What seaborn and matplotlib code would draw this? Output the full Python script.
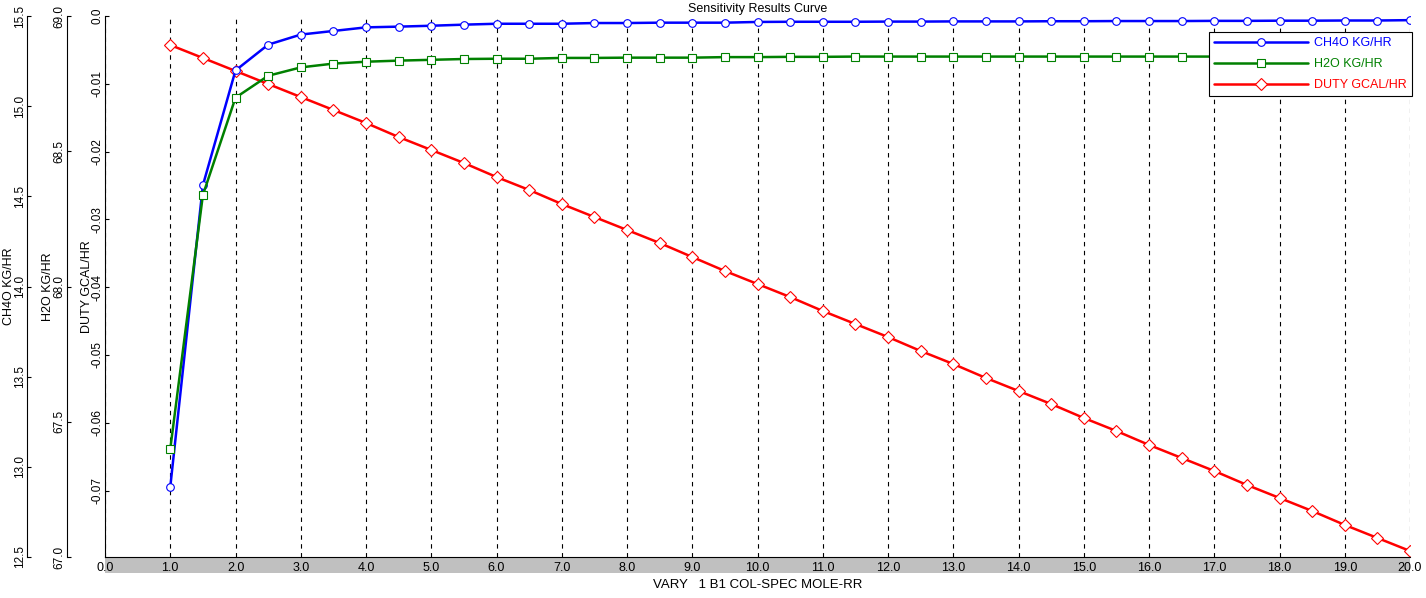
import matplotlib
matplotlib.use("Agg")
import matplotlib.pyplot as plt
import seaborn as sns
from matplotlib.patches import Rectangle
from matplotlib.ticker import FuncFormatter


# DATA

vary_rr = [1.0, 1.5, 2.0, 2.5, 3.0, 3.5, 4.0, 4.5, 5.0, 5.5,
           6.0, 6.5, 7.0, 7.5, 8.0, 8.5, 9.0, 9.5, 10.0, 10.5,
           11.0, 11.5, 12.0, 12.5, 13.0, 13.5, 14.0, 14.5, 15.0, 15.5,
           16.0, 16.5, 17.0, 17.5, 18.0, 18.5, 19.0, 19.5, 20.0]

ch4o_kg_hr = [12.887, 14.561, 15.198, 15.341, 15.397, 15.417, 15.437, 15.441, 15.446, 15.452,
              15.457, 15.457, 15.457, 15.461, 15.461, 15.463, 15.463, 15.463, 15.467, 15.468,
              15.468, 15.468, 15.469, 15.469, 15.470, 15.470, 15.470, 15.471, 15.471, 15.472,
              15.472, 15.472, 15.473, 15.473, 15.474, 15.474, 15.475, 15.475, 15.477]

h2o_kg_hr = [67.399, 68.338, 68.698, 68.779, 68.810, 68.824, 68.831, 68.835, 68.838, 68.841,
             68.842, 68.842, 68.845, 68.845, 68.846, 68.846, 68.846, 68.848, 68.848, 68.849,
             68.849, 68.850, 68.850, 68.850, 68.850, 68.850, 68.850, 68.850, 68.850, 68.850,
             68.850, 68.850, 68.850, 68.851, 68.851, 68.851, 68.851, 68.851, 68.851]

duty_gcal_hr = [-0.00428, -0.00619, -0.00811, -0.01003, -0.01195, -0.01386, -0.01578, -0.01785, -0.01976, -0.02168,
                -0.02375, -0.02566, -0.02773, -0.02965, -0.03156, -0.03348, -0.03555, -0.03761, -0.03953, -0.04145,
                -0.04351, -0.04543, -0.04735, -0.04941, -0.05133, -0.05339, -0.05531, -0.05723, -0.05929, -0.06121,
                -0.06327, -0.06519, -0.06711, -0.06917, -0.07109, -0.07301, -0.07507, -0.07699, -0.07891]

x_ticks = [0.0, 1.0, 2.0, 3.0, 4.0, 5.0, 6.0, 7.0, 8.0, 9.0, 10.0,
           11.0, 12.0, 13.0, 14.0, 15.0, 16.0, 17.0, 18.0, 19.0, 20.0]
ch4o_ticks = [12.5, 13.0, 13.5, 14.0, 14.5, 15.0, 15.5]
h2o_ticks = [67.0, 67.5, 68.0, 68.5, 69.0]
duty_ticks = [-0.07, -0.06, -0.05, -0.04, -0.03, -0.02, -0.01, 0.0]


# STYLE

sns.set_theme(style="white", rc={
    "axes.edgecolor": "black", "axes.labelcolor": "black", "text.color": "black",
    "xtick.color": "black", "ytick.color": "black", "axes.linewidth": 0.8,
})
plt.rcParams["font.family"] = ["Liberation Sans", "DejaVu Sans"]

W, H = 1426, 598
fig = plt.figure(figsize=(W / 100, H / 100), dpi=100)
ax = fig.add_axes([105 / W, 41 / H, 1305 / W, 541 / H])
ax_ch = ax.twinx()
ax_h2 = ax.twinx()

# grey band behind the x tick labels
fig.patches.append(Rectangle((105 / W, 25 / H), 1305 / W, 16 / H, transform=fig.transFigure,
                             facecolor="#c0c0c0", edgecolor="none", zorder=-1))


# LINES

line_kw = dict(linewidth=1.8, markerfacecolor="white", markeredgewidth=0.8, legend=False)
sns.lineplot(x=vary_rr, y=duty_gcal_hr, ax=ax, color="#ff0000", marker="D", markersize=6,
             markeredgecolor="#ff0000", **line_kw)
sns.lineplot(x=vary_rr, y=ch4o_kg_hr, ax=ax_ch, color="#0000ff", marker="o", markersize=5.5,
             markeredgecolor="#0000ff", **line_kw)
sns.lineplot(x=vary_rr, y=h2o_kg_hr, ax=ax_h2, color="#008000", marker="s", markersize=5.5,
             markeredgecolor="#008000", **line_kw)


# AXES

ax.set_xlim(0, 20)
ax.set_xticks(x_ticks)
ax.xaxis.set_major_formatter(FuncFormatter(lambda v, p: f"{v:.1f}"))
ax.tick_params(axis="x", length=0, pad=3.5, labelsize=9)
ax.xaxis.grid(True, color="black", linestyle=(0, (4, 4)), linewidth=0.8)
ax.set_xlabel("VARY   1 B1 COL-SPEC MOLE-RR", fontsize=9.5, labelpad=4)
ax.set_title("Sensitivity Results Curve", fontsize=9, pad=3)

ax.set_ylim(-0.0798, 0)
ax.set_yticks(duty_ticks)
ax.yaxis.set_major_formatter(FuncFormatter(lambda v, p: "0.0" if abs(v) < 1e-9 else f"{v:.2f}"))
ax.set_ylabel("DUTY GCAL/HR", fontsize=9)

ax_ch.set_ylim(12.5, 15.5)
ax_ch.set_yticks(ch4o_ticks)
ax_ch.yaxis.set_major_formatter(FuncFormatter(lambda v, p: f"{v:.1f}"))
ax_ch.set_ylabel("CH4O KG/HR", fontsize=9)

ax_h2.set_ylim(67.0, 69.0)
ax_h2.set_yticks(h2o_ticks)
ax_h2.yaxis.set_major_formatter(FuncFormatter(lambda v, p: f"{v:.1f}"))
ax_h2.set_ylabel("H2O KG/HR", fontsize=9)

for a, off in ((ax_ch, -78), (ax_h2, -38)):
    a.spines["left"].set_visible(True)
    a.spines["left"].set_position(("axes", off / 1305))
    a.yaxis.set_ticks_position("left")
    a.yaxis.set_label_position("left")
    a.spines["bottom"].set_visible(False)

# label anchors (right edge of the rotated text), in pixels from the figure's left edge
for a, px in ((ax_ch, 15), (ax_h2, 54), (ax, 93)):
    a.yaxis.set_label_coords((px - 105) / 1305, 0.5)

for a in (ax, ax_ch, ax_h2):
    a.spines["top"].set_visible(False)
    a.spines["right"].set_visible(False)
    a.tick_params(axis="y", left=True, right=False, direction="in", length=3, width=0.8,
                  pad=1, labelsize=8.5, labelrotation=90)
    for lbl in a.get_yticklabels():
        lbl.set_verticalalignment("center")


# LEGEND

handles = [ax_ch.get_lines()[0], ax_h2.get_lines()[0], ax.get_lines()[0]]
labels = ["CH4O KG/HR", "H2O KG/HR", "DUTY GCAL/HR"]
leg = ax_h2.legend(handles, labels, loc="upper right", bbox_to_anchor=(1412 / W, 1 - 32 / H),
                   bbox_transform=fig.transFigure, borderaxespad=0, fancybox=False,
                   edgecolor="black", framealpha=1, fontsize=9, handlelength=7.5,
                   handletextpad=0.5, labelspacing=0.72, borderpad=0.4, labelcolor="linecolor")
leg.get_frame().set_linewidth(0.8)

fig.savefig("out.png", dpi=100)
